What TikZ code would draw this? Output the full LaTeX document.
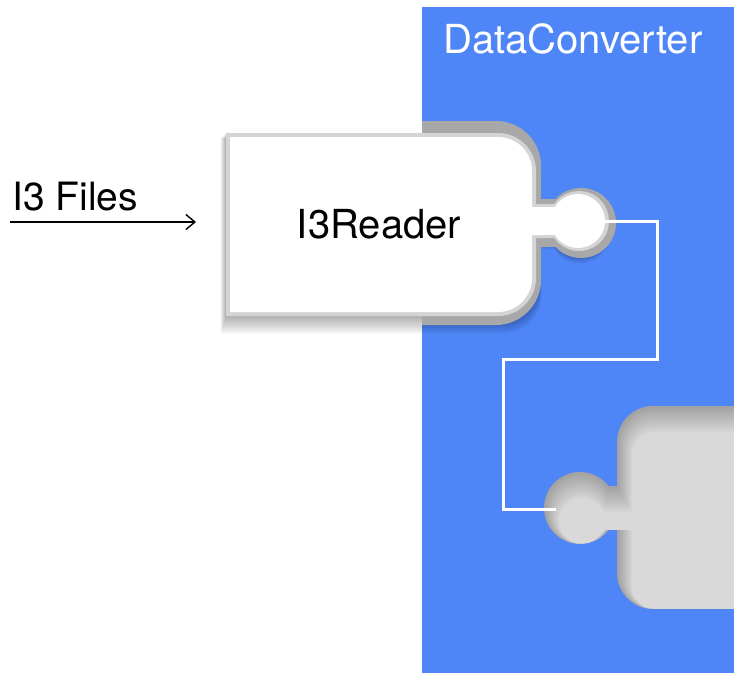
\documentclass[tikz,border=0pt]{standalone}
\usepackage{fontspec}
\setmainfont{TeX Gyre Heros}
\usetikzlibrary{arrows.meta}
\definecolor{dcblue}{RGB}{79,134,247}
\definecolor{slotgray}{RGB}{217,217,217}
\definecolor{banddark}{RGB}{168,168,168}
\definecolor{bandlight}{RGB}{212,212,212}
% upper puzzle piece (knob on the right): L T R B r cx cy k h
\newcommand{\upiece}[9]{(#1,#2) -- ({#3-#5},#2) arc[start angle=-90,end angle=0,radius=#5] -- (#3,{#7-#9}) -- ({#6-sqrt(#8*#8-#9*#9)},{#7-#9}) arc[start angle={-180+asin(#9/#8)},end angle={180-asin(#9/#8)},radius=#8] -- (#3,{#7+#9}) -- (#3,{#4-#5}) arc[start angle=0,end angle=90,radius=#5] -- (#1,#4) -- cycle}
% lower slot (knob on the left): X0 T B r cx cy k h
\newcommand{\lpiece}[8]{(760,#2) -- ({#1+#4},#2) arc[start angle=-90,end angle=-180,radius=#4] -- (#1,{#6-#8}) -- ({#5+sqrt(#7*#7-#8*#8)},{#6-#8}) arc[start angle={-asin(#8/#7)},end angle={-360+asin(#8/#7)},radius=#7] -- (#1,{#6+#8}) -- (#1,{#3-#4}) arc[start angle=180,end angle=90,radius=#4] -- (760,#3) -- cycle}
\tikzset{
  label text/.style={font=\fontsize{40}{42}\selectfont, text=black, inner sep=0pt},
  title text/.style={font=\fontsize{40}{42}\selectfont, text=white, inner sep=0pt},
  wire/.style={draw=white, line width=3pt},
  inflow/.style={draw=black, line width=1.4pt, -{Straight Barb[length=9pt,width=15pt]}},
}
\begin{document}
\begin{tikzpicture}[x=1pt,y=-1pt]
\useasboundingbox (0,0) rectangle (734,677);
% container
\fill[dcblue] (422,7) rectangle (740,673);
\node[title text, anchor=base west] (conv) at (443,54) {DataConverter};
% lower empty slot
\fill[slotgray] \lpiece{617}{406}{609}{36}{580}{508}{36}{22};
\begin{scope}
  \clip \lpiece{617}{406}{609}{36}{580}{508}{36}{22};
  \foreach \s in {1,...,13} {
    \draw[black, opacity=0.018, line width=2*\s, shift={(0.15*\s,\s)}] \lpiece{617}{406}{609}{36}{580}{508}{36}{22};
  }
\end{scope}
% drop shadow of the I3Reader piece
\foreach \d in {1,...,18} {
  \pgfmathsetmacro{\sL}{226-0.3*\d}
  \pgfmathsetmacro{\sT}{133+0.3*\d}
  \pgfmathsetmacro{\sR}{538+0.2*\d}
  \pgfmathsetmacro{\sB}{316+\d}
  \pgfmathsetmacro{\sY}{222+0.6*\d}
  \fill[black, opacity=0.018] \upiece{\sL}{\sT}{\sR}{\sB}{38}{580}{\sY}{31}{17};
}
% dark band of the slot (only in the container)
\begin{scope}
  \clip (422,0) rectangle (760,677);
  \fill[banddark] \upiece{400}{121}{541}{325}{45}{581}{223}{35}{24};
\end{scope}
% I3Reader piece
\fill[bandlight] \upiece{226}{133}{536}{316}{38}{579}{221}{30}{17};
\fill[white] \upiece{230}{137}{532}{312}{34}{578}{221}{27}{14};
\node[label text, anchor=base] (reader) at (379,238) {I3Reader};
% knob ends and connector
\coordinate (k1) at (605,221);
\coordinate (k2) at (556,509);
\draw[wire] (k1) -- (657,221) -- (657,359) -- (503,359) -- (503,509) -- (k2);
% input
\node[label text, font=\fontsize{39}{41}\selectfont, anchor=base west] (files) at (12,210) {I3 Files};
\coordinate (fs) at (10,222);
\coordinate (fe) at (196,222);
\draw[inflow] (fs) -- (fe);
\end{tikzpicture}
\end{document}
